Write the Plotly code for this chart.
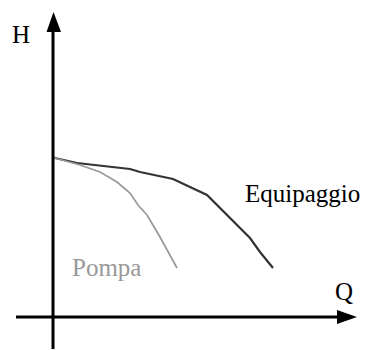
import plotly.graph_objects as go

# Curve data (Q, H) in chart units (origin at axes crossing)
equip_q = [0, 2, 24, 52, 77, 87, 120, 154, 197, 207, 220]
equip_h = [160, 159, 154, 151, 148, 145, 138, 122, 79, 65, 49]
pompa_q = [0, 2, 27, 47, 64, 77, 85, 94, 107, 124]
pompa_h = [160, 159, 152, 145, 135, 124, 112, 102, 80, 49]

labels = {"H": (-43, 283), "Q": (280, 26), "Equipaggio": (190, 124), "Pompa": (17, 50)}

FONT = "Liberation Serif, Times New Roman, serif"

fig = go.Figure()
fig.add_trace(go.Scatter(x=equip_q, y=equip_h, mode="lines",
                         line=dict(color="#333333", width=2.2), hoverinfo="skip"))
fig.add_trace(go.Scatter(x=pompa_q, y=pompa_h, mode="lines",
                         line=dict(color="#999999", width=1.7), hoverinfo="skip"))

# Axes lines
fig.add_shape(type="line", x0=0, x1=0, y0=-32, y1=290, line=dict(color="black", width=3))
fig.add_shape(type="line", x0=-37, x1=290, y0=0, y1=0, line=dict(color="black", width=3))
# Arrowheads
fig.add_shape(type="path", path="M -6.5 285 L 0.5 305 L 8 285 Z",
              fillcolor="black", line=dict(color="black", width=0))
fig.add_shape(type="path", path="M 284 7 L 304 0 L 284 -7 Z",
              fillcolor="black", line=dict(color="black", width=0))

colors = {"H": "black", "Q": "black", "Equipaggio": "black", "Pompa": "#999999"}
for txt, (x, y) in labels.items():
    fig.add_annotation(x=x, y=y, text=txt, showarrow=False, xanchor="left", yanchor="middle",
                       font=dict(family=FONT, size=25, color=colors[txt]))

fig.update_layout(width=367, height=350, margin=dict(l=0, r=0, t=0, b=0),
                  paper_bgcolor="white", plot_bgcolor="white", showlegend=False,
                  xaxis=dict(range=[-53, 314], visible=False, fixedrange=True),
                  yaxis=dict(range=[-33, 317], visible=False, fixedrange=True))
fig.write_html("out.html", config={"displayModeBar": False},
               post_script="document.body.style.margin='0';document.body.style.padding='0';document.body.style.overflow='hidden';")
